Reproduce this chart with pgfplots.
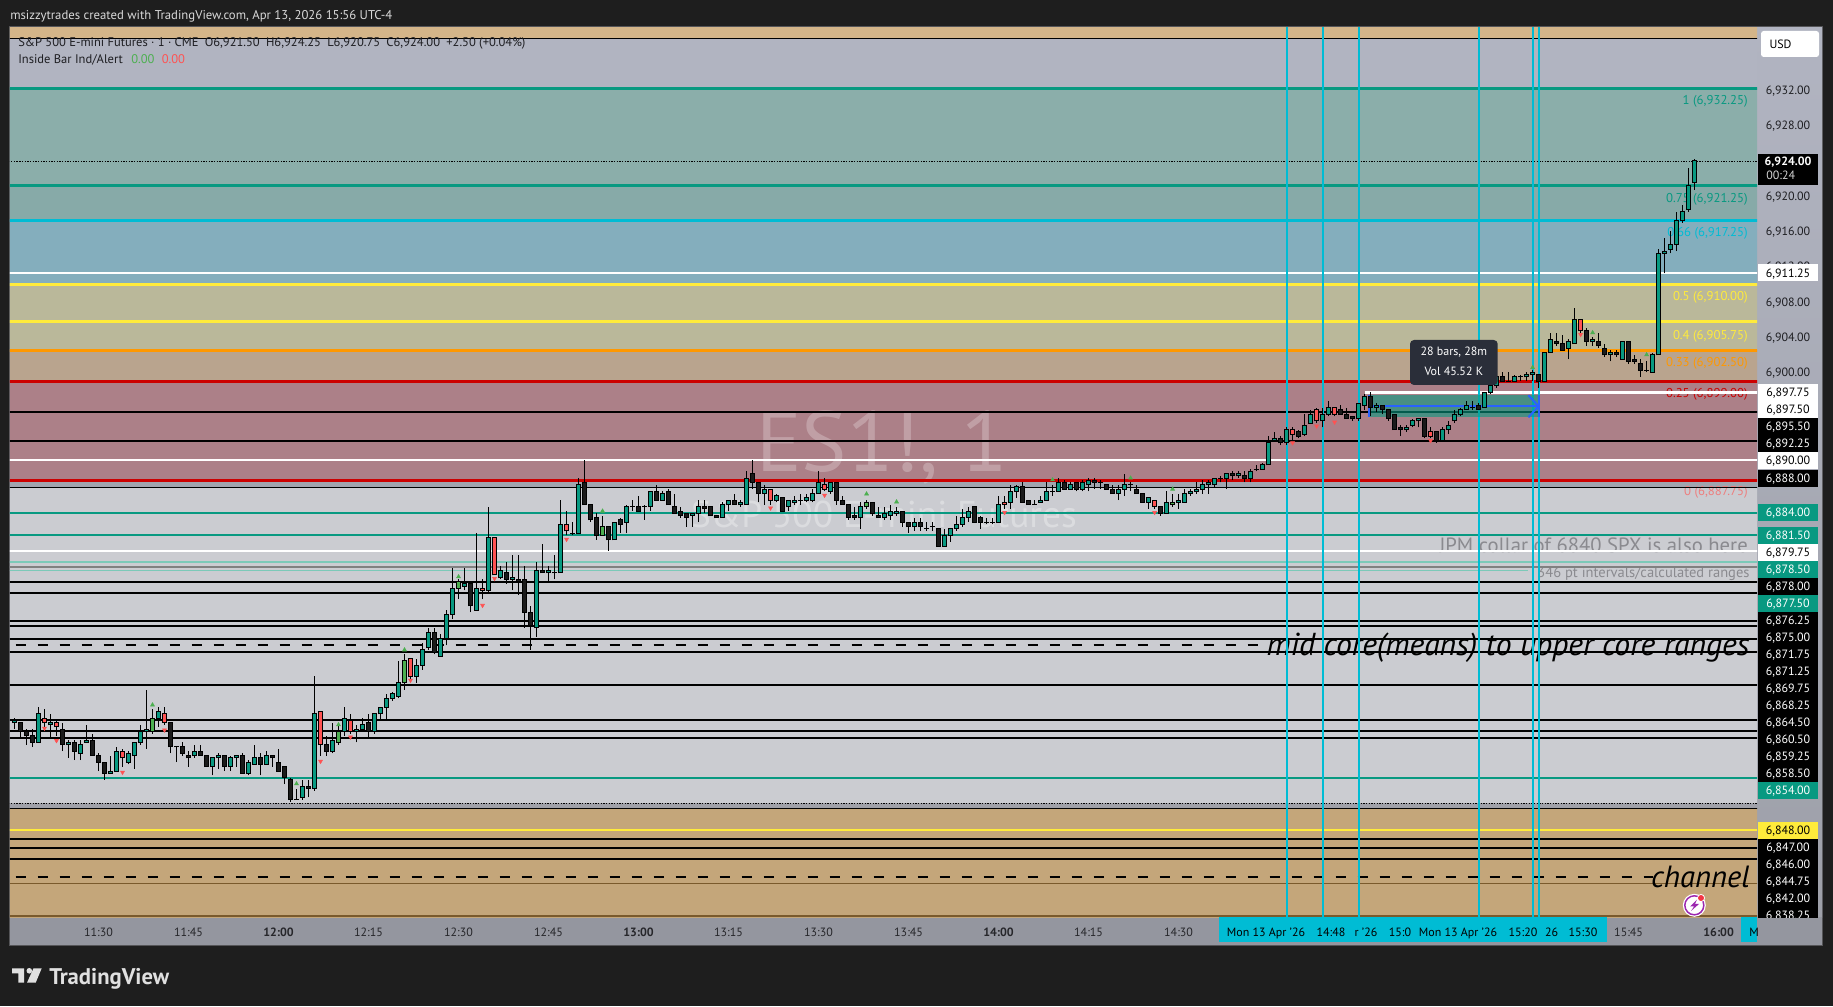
\documentclass[border=0pt]{standalone}
\usepackage{fontspec}
\setmainfont{PT Sans}
\usepackage{pgfplots}
\usepackage{pgfplotstable}
\pgfplotsset{compat=1.18}
\definecolor{tvup}{HTML}{089981}
\definecolor{tvdn}{HTML}{1A1A1A}
\definecolor{tvred}{HTML}{FF5252}
\definecolor{tvgrn}{HTML}{4CAF50}
\definecolor{tvcy}{HTML}{00BCD4}
\definecolor{tvyl}{HTML}{FFEB3B}
\definecolor{tvor}{HTML}{FF9800}
\definecolor{tvrd}{HTML}{CC0000}
\definecolor{bgdark}{HTML}{1E1E1E}
\definecolor{tealL}{HTML}{7CC9B8}
\definecolor{brwn}{HTML}{7A5A2C}
\definecolor{tax}{HTML}{94969F}
\pgfplotstableread{
t o h l c
676 6860.25 6860.75 6859.5 6860.5
680 6858 6862 6858 6861.25
682 6860 6861.25 6858.5 6860.25
685 6857.75 6858.25 6856.25 6858
687 6856.75 6858.25 6856 6857.75
688 6858 6860 6858 6858.25
692 6854.5 6856.5 6854.5 6854.75
693 6854.75 6857.5 6854.75 6857
695 6855.75 6857 6855.5 6856.75
696 6856.5 6858 6855 6858
697 6858 6860 6857.75 6859.25
698 6859.25 6864 6857.25 6859.5
700 6860.75 6862 6859.75 6861.5
706 6856.5 6857.75 6856.25 6857
709 6855.25 6856.25 6854.25 6856.25
710 6856.25 6856.75 6855 6856.5
712 6855.25 6856.5 6854.75 6856.25
713 6856.25 6856.5 6855.25 6856.5
715 6854.5 6856 6854.25 6855.75
716 6855.5 6857.75 6855.5 6856.25
718 6855.5 6857 6855.5 6856.5
724 6851.75 6853.75 6851.5 6853
726 6852.75 6865.5 6852.5 6861.25
729 6857 6860.25 6856.75 6858.25
731 6859.25 6862 6858.75 6860.75
733 6859.25 6860 6858 6859.5
734 6859.5 6860.75 6859.25 6860
736 6859.25 6861.25 6859 6861.25
737 6861.25 6862 6860.5 6862
738 6862 6863.5 6860.5 6863
739 6863 6863.75 6862.75 6863.5
740 6863.25 6867.25 6863 6864.75
743 6865.5 6867.5 6864.75 6866.75
744 6866.75 6869.25 6866.25 6868.5
745 6868.75 6871 6868.5 6870.5
747 6867.75 6870.25 6867.75 6869.75
748 6869.75 6873 6869 6872.5
749 6872.5 6877.75 6872 6875.5
751 6875.75 6877.75 6875.25 6876
753 6873 6881.75 6873 6875.5
755 6875.25 6884.75 6875 6881.25
757 6876.75 6878 6876.5 6877.5
759 6876.5 6879.25 6875.25 6876.75
763 6871 6878.5 6870 6877.5
765 6877.25 6878 6876.25 6877.5
767 6877.25 6885.5 6877.25 6882.75
770 6881.75 6888 6881.75 6887.25
776 6881 6883 6881 6883
778 6883 6885 6881.75 6884.75
782 6884.75 6886.5 6884.25 6886.5
784 6885.5 6886.5 6885.5 6886.25
789 6883.75 6884 6882.5 6884
790 6884 6885.5 6883 6884.75
794 6883.5 6885.25 6883.5 6885
795 6885 6885.5 6884.25 6885.5
797 6885 6885.5 6884.75 6885.25
798 6885 6888.75 6885 6888
801 6886.25 6887.25 6885 6886.75
803 6885.5 6886.25 6885.25 6886
805 6884.75 6885.5 6884.25 6885.5
806 6885.25 6886 6885 6885.5
808 6885.5 6886.25 6885.25 6885.75
809 6885.5 6886.75 6885.25 6886.25
810 6886.25 6888.75 6886.25 6887.5
812 6886.5 6887.5 6886.25 6887.5
817 6883.5 6885.25 6882.25 6884.75
821 6883.5 6884.75 6883.25 6884
822 6883.75 6885 6883.25 6884.25
823 6884 6884.75 6883.75 6884.25
826 6882.5 6883.5 6882 6883
831 6880.25 6882.25 6880.25 6881.5
832 6881.5 6882.25 6880.75 6882.25
833 6882.25 6883.75 6882 6882.75
834 6882.75 6884.5 6882.5 6883.5
835 6883.5 6884.75 6883 6884.25
840 6883 6886 6883 6885
842 6885.25 6887.25 6884.5 6886.5
843 6886.5 6887.25 6885.75 6887
847 6885.25 6886 6885.25 6885.5
848 6885.5 6887.5 6885.5 6886.5
850 6886.5 6888 6886.5 6887.5
852 6886.75 6887.5 6886.75 6887.25
854 6886.75 6887.75 6886.5 6887.5
855 6887.25 6888 6886.5 6887.75
860 6886.25 6887.25 6885.5 6886.75
861 6886.75 6888.5 6886 6887.25
865 6885.25 6885.75 6884.5 6885.75
868 6884 6886.5 6884 6885.25
870 6885.25 6886.25 6884.5 6885.5
871 6885.25 6886.75 6885.25 6886.25
872 6886.25 6886.75 6886 6886.5
873 6886.5 6887.5 6886.25 6886.75
874 6886.75 6887.75 6886.25 6887.25
875 6887.25 6887.75 6886.25 6887.5
876 6887.25 6888 6887 6888
878 6888 6888.5 6886.75 6888.5
880 6888.25 6888.75 6888 6888.5
882 6888 6889 6887.5 6888.75
884 6889 6889.75 6889 6889.5
885 6889.5 6892.75 6889.5 6892
886 6892.25 6893.25 6892.25 6892.5
888 6892 6893.75 6891.75 6893.5
891 6893 6895.25 6892.75 6894
892 6894.25 6895.75 6894.25 6895.25
894 6894.5 6896 6893.75 6895.25
895 6895.25 6896.75 6895 6896
900 6894.75 6896.5 6894.5 6896.5
901 6896.25 6897.5 6895.75 6897.25
903 6896 6896.5 6895.5 6896.25
908 6893.5 6894 6893.25 6893.75
909 6894 6894.75 6893.75 6894.5
910 6894.5 6894.75 6893.75 6894.75
914 6892.25 6893.75 6892.25 6893.5
915 6893.5 6894.5 6893 6894
916 6894.5 6895.75 6894.25 6895.25
917 6895.25 6896 6895 6895.75
918 6895.75 6896.75 6895.75 6896.25
921 6896 6897.75 6896 6897.75
922 6897.75 6898.75 6897.5 6898.5
923 6898.5 6899.75 6898.25 6899.5
926 6899 6899.75 6899 6899.5
928 6899.5 6900 6899 6899.75
929 6899.75 6900.25 6899 6900
931 6899 6902.25 6899 6902.25
932 6902.25 6904.5 6902.25 6903.75
935 6902.75 6903.75 6901.5 6903.5
936 6903.25 6907.25 6903.25 6906
939 6903.5 6904 6903 6903.75
942 6902 6902.5 6901.25 6902.25
944 6901.5 6903.5 6901.5 6903.5
949 6900 6902.25 6900 6902
950 6902 6914 6902 6913.5
951 6913.5 6915.25 6911.25 6913.75
952 6914 6916 6913.5 6914.5
953 6914.5 6918.25 6913.75 6917.25
954 6917.25 6919 6917 6918.25
955 6918.5 6923.25 6918.25 6921.25
956 6921.5 6924.25 6920.75 6924
}\upT
\pgfplotstableread{
t o h l c
677 6860.25 6860.25 6858.5 6859.25
678 6859.25 6859.5 6857.75 6858.75
679 6858.75 6859.5 6857.5 6858
684 6859.5 6860.25 6857 6857.75
686 6858 6858.25 6856 6857
689 6858.25 6859 6856.5 6856.5
690 6856.5 6856.75 6854.75 6855.75
691 6855.75 6855.75 6853.75 6854.5
702 6860.25 6860.25 6856.75 6857.5
703 6857.5 6857.5 6855.75 6857.5
704 6857.5 6858 6856.5 6856.75
705 6856.5 6857 6855.25 6856.25
707 6857 6857.75 6856.5 6856.5
708 6856.5 6856.5 6855.25 6855.25
711 6856.5 6856.5 6854.75 6855.25
714 6856.5 6856.75 6854.5 6854.5
717 6856.25 6856.75 6854.25 6855.5
719 6856.5 6856.5 6855.25 6856.25
720 6855.75 6857.25 6854.75 6854.75
721 6855.25 6855.25 6853.25 6854
722 6853.75 6854 6851.25 6851.5
723 6851.5 6852.75 6851.5 6851.5
725 6853 6853.75 6851.75 6852.75
728 6857.75 6858.75 6856.5 6857
735 6860.25 6861.25 6858.5 6859.25
746 6870.5 6871 6868 6868.25
752 6876 6876 6872.75 6873.5
758 6877.25 6878.5 6876 6876.5
760 6876.5 6879.25 6874.75 6876.25
761 6876.5 6878 6871 6872.75
762 6872.75 6873.5 6868.5 6871.25
764 6877.5 6880.5 6877.25 6877.25
766 6877.25 6879.25 6876.5 6877.25
769 6881.75 6883 6881.5 6881.75
771 6887.5 6890 6885 6885
772 6885 6885 6883 6883.25
773 6883.5 6884 6881 6881.5
775 6882.5 6882.5 6879.75 6881
777 6883.25 6883.5 6881.75 6882.75
779 6884.75 6885.5 6884.25 6884.75
780 6884.75 6886 6884.25 6884.25
781 6884.75 6885 6883.25 6884.75
783 6886.5 6887.25 6885.5 6885.5
785 6886.5 6886.75 6885 6885
786 6884.75 6886.25 6884 6884
787 6884.25 6884.75 6883.5 6883.75
788 6884 6884 6882.5 6883.5
791 6884.75 6885.5 6884 6884.5
792 6884.75 6884.75 6883.75 6883.75
793 6883.75 6883.75 6883.5 6883.5
796 6885.5 6886.25 6885 6885
799 6888.5 6890 6886.75 6887.5
800 6887.5 6887.5 6885.25 6886.25
804 6885.75 6885.75 6884.25 6884.25
807 6885.5 6886.25 6885 6885.5
813 6887.5 6887.5 6885 6885.5
814 6885.5 6886 6885 6885
815 6885 6885 6883.25 6883.5
816 6883.75 6884.75 6883.25 6883.5
819 6885.25 6885.25 6883.75 6884
820 6883.75 6884.75 6883.5 6883.5
824 6884.25 6884.25 6882.5 6883
825 6883 6883 6881.75 6882.5
827 6883 6883.5 6882 6882.5
828 6882.25 6883 6882 6882.25
829 6882.5 6883 6882 6882.5
830 6882.25 6882.25 6880.25 6880.25
836 6884.75 6884.75 6883 6883
837 6883.5 6883.75 6882.25 6883
838 6883 6883.5 6882.75 6883
839 6883 6883.5 6882.75 6883
844 6887 6887.5 6885.25 6885.25
845 6885.5 6885.5 6885 6885
846 6885 6885.5 6885 6885
849 6886.5 6887.25 6886 6886.5
851 6887.5 6887.75 6886.75 6886.75
853 6887.5 6887.5 6886.5 6886.75
856 6887.75 6888 6886.75 6887.5
857 6887.5 6887.75 6886.75 6887.5
858 6887.25 6887.25 6886.75 6886.75
859 6886.75 6887.25 6886.25 6886.25
862 6887.25 6887.5 6886.5 6887.25
863 6886.75 6887.25 6886.25 6886.25
864 6886.25 6886.25 6885.25 6885.25
867 6884.75 6884.75 6883.75 6884
877 6888 6888.25 6887.5 6888
879 6888.5 6888.75 6887.75 6888.25
881 6888.25 6888.75 6887.5 6888
883 6889 6889.5 6888.75 6889
887 6892.5 6892.75 6891.75 6892
890 6893.25 6893.5 6892.5 6892.75
897 6895.75 6896.25 6895.25 6895.25
898 6895.25 6896 6894.75 6894.75
899 6895 6895 6894.5 6894.75
902 6897.25 6897.75 6895 6896
904 6896.25 6896.25 6895.25 6895.75
905 6895.75 6895.75 6894.5 6894.75
906 6895.25 6895.25 6893.5 6893.5
907 6893.75 6894 6892.75 6893.5
911 6894.75 6894.75 6892.5 6892.75
913 6893.25 6893.25 6892 6892.25
919 6896 6896.75 6895.75 6896
920 6896.25 6896.5 6895.75 6895.75
924 6899.5 6900 6899 6899
925 6899 6900 6899 6899
927 6899.5 6899.75 6899 6899.5
930 6899.75 6899.75 6898.25 6899
933 6903.5 6904.5 6903 6903.25
934 6903.25 6904.25 6902.5 6902.5
938 6904.75 6905 6903 6903.5
940 6903.5 6904.5 6902.75 6903
941 6902.75 6903.25 6901.75 6902
943 6902.25 6902.5 6901.75 6902
945 6903.5 6903.5 6901 6901.25
946 6901.5 6902 6901 6901.25
947 6901 6901.5 6899.5 6900.25
948 6900.25 6901.25 6900 6900.25
}\dnT
\pgfplotstableread{
t o h l c
681 6860.75 6861.75 6859.75 6860.25
683 6860.25 6860.5 6858.75 6859.75
694 6857 6857.25 6855.25 6856.25
701 6861.25 6862 6860 6860.25
727 6861.5 6861.5 6856.5 6857.75
732 6860.5 6861.25 6859 6859.25
742 6867.5 6867.5 6865 6865.5
754 6875.5 6876.5 6874.25 6875.25
756 6881.25 6881.25 6877 6877
768 6882.75 6884.25 6881.5 6882
802 6886.75 6886.75 6885 6885.5
811 6887.25 6888 6886.5 6886.75
841 6885.25 6886 6884.5 6885
866 6885.5 6885.5 6884.5 6884.75
889 6893.5 6893.75 6892.25 6893
893 6895.75 6896 6894.25 6894.5
896 6896 6896 6895 6895.25
912 6893.25 6893.75 6892.5 6892.75
937 6906 6906 6904.5 6904.75
}\redT
\pgfplotstableread{
t o h l c
699 6859.25 6861.75 6859 6860.75
730 6858 6860.25 6857.75 6859.25
741 6864.75 6868 6864 6867.25
750 6875.5 6876.5 6874.25 6876.25
774 6881.5 6883.75 6881.5 6882.5
818 6884.75 6885.5 6884.5 6885.25
869 6885 6886.25 6884.75 6885.25
}\grnT
% one path per layer (wick, outline, fill), each candle separated by a jump
\newcommand{\candles}[2]{%
\pgfplotstablegetrowsof{#1}\pgfmathtruncatemacro\lastrow{\pgfplotsretval-1}%
\gdef\wickP{}\gdef\outP{}\gdef\innP{}%
\pgfplotsforeachungrouped \rw in {0,...,\lastrow}{%
  \pgfplotstablegetelem{\rw}{t}\of{#1}\let\vT\pgfplotsretval
  \pgfplotstablegetelem{\rw}{o}\of{#1}\let\vO\pgfplotsretval
  \pgfplotstablegetelem{\rw}{h}\of{#1}\let\vH\pgfplotsretval
  \pgfplotstablegetelem{\rw}{l}\of{#1}\let\vL\pgfplotsretval
  \pgfplotstablegetelem{\rw}{c}\of{#1}\let\vC\pgfplotsretval
  \pgfmathsetmacro\vTop{max(\vO,\vC)}%
  \pgfmathsetmacro\vBot{min(\vO,\vC)}%
  \pgfmathsetmacro\oTop{\vTop+0.057}%
  \pgfmathsetmacro\oBot{\vBot-0.057}%
  \pgfmathsetmacro\nTop{\vTop-0.057}%
  \pgfmathsetmacro\nBot{\vBot+0.057}%
  \xdef\wickP{\wickP(\vT,\vL)(\vT,\vH)(\vT,nan)}%
  \xdef\outP{\outP(\vT,\oBot)(\vT,\oTop)(\vT,nan)}%
  \pgfmathtruncatemacro\hasbody{(\vTop-\vBot)>0.12?1:0}%
  \ifnum\hasbody=1 \xdef\innP{\innP(\vT,\nBot)(\vT,\nTop)(\vT,nan)}\fi
}%
\edef\tmpA{\noexpand\addplot[draw=black,line width=0.75pt,unbounded coords=jump,forget plot] coordinates {\wickP};}\tmpA
\edef\tmpB{\noexpand\addplot[draw=black,line width=3.75pt,unbounded coords=jump,forget plot] coordinates {\outP};}\tmpB
\edef\tmpC{\noexpand\addplot[draw=#2,line width=2.25pt,unbounded coords=jump,forget plot] coordinates {\innP};}\tmpC
}
\newcommand{\band}[3]{\addplot[fill=#1,draw=none,forget plot] coordinates {(675,#2)(967,#2)(967,#3)(675,#3)} -- cycle;}
\newcommand{\hl}[3]{\addplot[draw=#1,line width=#2,forget plot] coordinates {(675,#3)(967,#3)};}
\newcommand{\vl}[1]{\addplot[draw=tvcy,line width=1.5pt,forget plot] coordinates {(#1,6838)(#1,6940)};}
\newcommand{\plab}[4]{\node[fill=#3,text=#4,minimum width=45pt,minimum height=12.75pt,inner sep=0pt,text height=6.2pt,text depth=0pt,font=\fontsize{9}{10}\selectfont] at (1788,#1) {#2};}
\newcommand{\tl}[2]{\node[text=black,inner sep=0pt,text height=6.2pt,text depth=0pt,font=\fontsize{9}{10}\selectfont] at (#1,932.7) {#2};}
\newcommand{\fib}[3]{\node[anchor=east,text=#3,inner sep=0pt,text height=6.4pt,text depth=0pt,font=\fontsize{9.6}{10}\selectfont] at (axis cs:964.9,#1) {#2};}
\begin{document}
\begin{tikzpicture}
\begin{scope}[x=0.75pt,y=-0.75pt,shift={(0pt,754.5pt)}]
\path[use as bounding box,fill=bgdark] (0,0) rectangle (1833,1006);
\fill[color={rgb,255:red,85;green,85;blue,88}] (9,26.5) rectangle (1823,946);
\shade[top color={rgb,255:red,177;green,180;blue,193},bottom color={rgb,255:red,158;green,160;blue,169}] (1757,28) rectangle (1822,918);
\fill[tax] (10,917) rectangle (1822,945);
\end{scope}
\begin{axis}[at={(7.5pt,66.75pt)},anchor=south west,scale only axis,width=1310.25pt,height=666.75pt,
  xmin=675.25,xmax=966.4,ymin=6838.18,ymax=6939.09,
  axis line style={draw=none},major tick length=0pt,
  yticklabel pos=right,
  xtick={690,705,720,735,750,765,780,795,810,825,840,855,870,945,960},
  xticklabels={11:30,11:45,\textbf{12:00},12:15,12:30,12:45,\textbf{13:00},13:15,13:30,13:45,\textbf{14:00},14:15,14:30,15:45,\textbf{16:00}},
  ytick={6900,6904,6908,6912,6916,6920,6928,6932},
  scaled y ticks=false,
  yticklabel style={/pgf/number format/fixed,/pgf/number format/fixed zerofill,/pgf/number format/precision=2,/pgf/number format/1000 sep={,},/pgf/number format/assume math mode=true},
  x tick label style={anchor=center,yshift=-11.5pt,text height=6.2pt,text depth=0pt,font=\fontsize{9}{10}\selectfont,text={rgb,255:red,38;green,38;blue,42}},
  y tick label style={anchor=center,xshift=23.25pt,text height=6.2pt,text depth=0pt,font=\fontsize{9}{10}\selectfont,text={rgb,255:red,30;green,30;blue,34}},
]
% bands
\band{{rgb,255:red,212;green,181;blue,137}}{6939.2}{6937.93}
\band{{rgb,255:red,177;green,180;blue,193}}{6937.93}{6932.25}
\band{{rgb,255:red,139;green,174;blue,170}}{6932.25}{6921.25}
\band{{rgb,255:red,135;green,170;blue,168}}{6921.25}{6917.25}
\band{{rgb,255:red,132;green,174;blue,189}}{6917.25}{6910}
\band{{rgb,255:red,186;green,184;blue,154}}{6910}{6902.5}
\band{{rgb,255:red,185;green,164;blue,142}}{6902.5}{6899}
\band{{rgb,255:red,172;green,128;blue,136}}{6899}{6887.75}
\band{{rgb,255:red,161;green,164;blue,174}}{6887.75}{6886.9}
\band{{rgb,255:red,203;green,204;blue,209}}{6886.9}{6851.1}
\band{{rgb,255:red,160;green,161;blue,169}}{6851.1}{6850.5}
\band{{rgb,255:red,196;green,166;blue,122}}{6850.5}{6838}
% watermark
\node[text=white,opacity=0.25,font=\fontsize{64}{70}\selectfont] at (axis cs:820.6,6891.5) {ES1!, 1};
\node[text=white,opacity=0.32,font=\fontsize{28}{30}\selectfont] at (axis cs:820.9,6883.9) {S\&P 500 E-mini Futures};
% texts behind lines
\node[anchor=east,inner sep=0pt,text height=10.8pt,text depth=0pt,text={rgb,255:red,138;green,138;blue,143},font=\fontsize{15.5}{16}\selectfont] at (axis cs:964.9,6880.4) {JPM collar of 6840 SPX is also here};
\node[anchor=east,inner sep=0pt,text height=7.6pt,text depth=0pt,text={rgb,255:red,138;green,138;blue,143},font=\fontsize{10.9}{12}\selectfont] at (axis cs:965.2,6877.3) {346 pt intervals/calculated ranges};
\fib{6930.92}{1 (6,932.25)}{tvup}
\fib{6919.8}{0.75 (6,921.25)}{tvup}
\fib{6915.9}{0.66 (6,917.25)}{tvcy}
\fib{6908.67}{0.5 (6,910.00)}{tvyl}
\fib{6904.25}{0.4 (6,905.75)}{tvyl}
\fib{6901.1}{0.33 (6,902.50)}{tvor}
\fib{6897.67}{0.25 (6,899.00)}{tvrd}
\fib{6886.46}{0 (6,887.75)}{{rgb,255:red,238;green,125;blue,125}}
% horizontal lines
\hl{black}{0.75pt}{6937.93}
\hl{tvup}{1.9pt}{6932.25}
\hl{tvup}{2.2pt}{6921.25}
\hl{tvcy}{2.2pt}{6917.25}
\hl{tvyl}{1.9pt}{6910}
\hl{tvyl}{1.9pt}{6905.75}
\hl{tvor}{1.9pt}{6902.5}
\hl{tvrd}{2.2pt}{6899}
\hl{tvrd}{2.2pt}{6887.75}
\hl{white}{1.5pt}{6911.25}
\addplot[draw=white,line width=2.2pt,forget plot] coordinates {(901,6897.75)(967,6897.75)};
\hl{black}{1.5pt}{6895.5}
\hl{black}{1.5pt}{6892.25}
\hl{white}{1.5pt}{6890}
\hl{black}{0.75pt}{6886.9}
\hl{tvup}{1.5pt}{6884}
\hl{tvup}{1.7pt}{6881.5}
\hl{white}{1.5pt}{6879.75}
\hl{tealL}{1.2pt}{6878.5}
\hl{gray}{1.2pt}{6877.9}
\addplot[draw=tealL,line width=1.2pt,forget plot] coordinates {(675,6877.5)(928.25,6877.5)};
\hl{black}{1.5pt}{6876.25}
\hl{black}{1.5pt}{6875}
\hl{black}{1.5pt}{6871.75}
\hl{black}{1.5pt}{6871.25}
\hl{black}{1.5pt}{6869.75}
\hl{black}{1.5pt}{6868.25}
\hl{black}{1.5pt}{6864.5}
\hl{black}{1.5pt}{6860.5}
\hl{black}{1.5pt}{6859.25}
\hl{black}{1.5pt}{6858.5}
\hl{tvup}{1.5pt}{6854}
\addplot[draw=black,line width=0.75pt,dash pattern=on 1pt off 1pt,forget plot] coordinates {(675,6851.1)(967,6851.1)};
\hl{black}{0.75pt}{6850.5}
\hl{tvyl}{1.5pt}{6848}
\hl{black}{1.5pt}{6847}
\hl{black}{1.5pt}{6846}
\hl{black}{1.5pt}{6844.75}
\hl{brwn}{1.2pt}{6842}
\hl{brwn}{1.5pt}{6838.3}
\addplot[draw=black,line width=0.6pt,dash pattern=on 1pt off 1pt,forget plot] coordinates {(675,6924)(967,6924)};
\addplot[draw=black,line width=1.5pt,dash pattern=on 7.5pt off 9pt,forget plot] coordinates {(676.2,6869.1)(883.9,6869.1)};
\addplot[draw=black,line width=1.5pt,dash pattern=on 7.5pt off 9pt,forget plot] coordinates {(676.2,6842.75)(949,6842.75)};
\node[anchor=east,inner sep=0pt,text height=17pt,text depth=0pt,text=black,font=\fontsize{23.8}{26}\selectfont\itshape] at (axis cs:965.2,6869.1) {mid core(means) to upper core ranges};
\node[anchor=east,inner sep=0pt,text height=16.5pt,text depth=0pt,text=black,font=\fontsize{23}{26}\selectfont\itshape] at (axis cs:965.2,6842.75) {channel};
% vertical lines
\vl{888}\vl{894}\vl{900}\vl{920}\vl{929}\vl{930}
% measure
\addplot[fill=tvup,fill opacity=0.6,draw=none,forget plot] coordinates {(901.8,6897.4)(930,6897.4)(930,6894.9)(901.8,6894.9)} -- cycle;
\addplot[draw={rgb,255:red,41;green,98;blue,255},line width=1.5pt,forget plot] coordinates {(901.8,6896.15)(930,6896.15)};
\addplot[draw={rgb,255:red,41;green,98;blue,255},line width=1.5pt,forget plot] coordinates {(901.8,6897.4)(901.8,6894.9)};
\addplot[draw={rgb,255:red,41;green,98;blue,255},line width=1.5pt,forget plot] coordinates {(930,6897.4)(930,6894.9)};
\addplot[draw={rgb,255:red,41;green,98;blue,255},line width=1.5pt,forget plot] coordinates {(928.3,6897.4)(930,6896.15)(928.3,6894.9)};
% candles
\candles{\upT}{tvup}
\candles{\dnT}{tvdn}
\candles{\redT}{tvred}
\candles{\grnT}{tvgrn}
% inside-bar markers
\addplot[only marks,mark=triangle*,mark size=1.7pt,color=tvgrn,forget plot] coordinates {
(699,6862.25)(723,6853.3)(730,6860)(741,6868.5)(750,6876.8)(774,6884.25)(818,6886.2)(823,6885.3)(849,6887.8)(862,6888)(869,6886.75)(929,6900.55)(939,6904.5)(948,6902)};
\addplot[only marks,mark=triangle*,mark size=1.7pt,color=tvred,every mark/.append style={rotate=180},forget plot] coordinates {
(681,6859.6)(683,6858.2)(694,6854.6)(701,6859.4)(727,6855.85)(732,6858.6)(742,6865.05)(754,6873.55)(756,6876.6)(768,6881.05)(802,6884.6)(811,6886.05)(841,6884.1)(866,6884.1)(889,6892)(893,6893.9)(896,6894.35)(912,6892.25)(937,6904.3)};
\end{axis}
\begin{scope}[x=0.75pt,y=-0.75pt,shift={(0pt,754.5pt)}]
% header
\node[anchor=west,inner sep=0pt,text height=6.6pt,text depth=0pt,text={rgb,255:red,217;green,217;blue,217},font=\fontsize{9.55}{11}\selectfont] at (10,14.7) {msizzytrades created with TradingView.com, Apr 13, 2026 15:56 UTC-4};
\node[anchor=west,inner sep=0pt,text height=6.4pt,text depth=0pt,text={rgb,255:red,30;green,30;blue,34},font=\fontsize{9.4}{11}\selectfont] at (18,42.3) {S\&P 500 E-mini Futures · 1 · CME\enspace O6,921.50\enspace H6,924.25\enspace L6,920.75\enspace C6,924.00\enspace +2.50 (+0.04\%)};
\node[anchor=west,inner sep=0pt,text height=6.4pt,text depth=0pt,text={rgb,255:red,30;green,30;blue,34},font=\fontsize{9.4}{11}\selectfont] at (18,59) {Inside Bar Ind/Alert};
\node[anchor=west,inner sep=0pt,text height=6.4pt,text depth=0pt,text=tvgrn,font=\fontsize{9.4}{11}\selectfont] at (131,59) {0.00};
\node[anchor=west,inner sep=0pt,text height=6.4pt,text depth=0pt,text=tvred,font=\fontsize{9.4}{11}\selectfont] at (161.5,59) {0.00};
% USD
\fill[white,rounded corners=2pt] (1761,31) rectangle (1819,57);
\node[text=black,inner sep=0pt,text height=6.2pt,text depth=0pt,font=\fontsize{9}{10}\selectfont] at (1780.5,44) {USD};
% price labels
\fill[black] (1758,154) rectangle (1818,184.7);
\node[text=white,font=\fontsize{9}{10}\selectfont\bfseries,inner sep=0pt,text height=6.2pt,text depth=0pt] at (1788,161.5) {6,924.00};
\node[text={rgb,255:red,210;green,210;blue,210},anchor=west,font=\fontsize{9}{10}\selectfont,inner sep=0pt,text height=6.2pt,text depth=0pt] at (1766,175.5) {00:24};
\plab{273}{6,911.25}{white}{black}
\plab{392.3}{6,897.75}{white}{black}
\plab{409.3}{6,897.50}{white}{black}
\plab{426.3}{6,895.50}{black}{white}
\plab{443.5}{6,892.25}{black}{white}
\plab{460.7}{6,890.00}{white}{black}
\plab{478.3}{6,888.00}{black}{white}
\plab{512.7}{6,884.00}{tvup}{white}
\plab{535.7}{6,881.50}{tvup}{white}
\plab{552.7}{6,879.75}{white}{black}
\plab{569.7}{6,878.50}{tvup}{white}
\plab{586.7}{6,878.00}{black}{white}
\plab{603.7}{6,877.50}{tvup}{white}
\plab{620.7}{6,876.25}{black}{white}
\plab{637.5}{6,875.00}{black}{white}
\plab{654.5}{6,871.75}{black}{white}
\plab{671.7}{6,871.25}{black}{white}
\plab{688.7}{6,869.75}{black}{white}
\plab{705.4}{6,868.25}{black}{white}
\plab{722.4}{6,864.50}{black}{white}
\plab{739.4}{6,860.50}{black}{white}
\plab{756.4}{6,859.25}{black}{white}
\plab{773.4}{6,858.50}{black}{white}
\plab{790.4}{6,854.00}{tvup}{white}
\plab{830.7}{6,848.00}{tvyl}{black}
\plab{847.7}{6,847.00}{black}{white}
\plab{864.7}{6,846.00}{black}{white}
\plab{881.7}{6,844.75}{black}{white}
\plab{898.7}{6,842.00}{black}{white}
\plab{915.7}{6,838.25}{black}{white}
\fill[tax] (1757,917.7) rectangle (1822,945);
% time axis cyan boxes
\fill[tvcy] (1219,917) rectangle (1606.5,941.7);
\fill[tvcy] (1741,917) rectangle (1757,941.7);
\tl{1266}{Mon 13 Apr '26}
\tl{1331}{14:48}
\tl{1366}{r '26}
\tl{1400}{15:0}
\tl{1458}{Mon 13 Apr '26}
\tl{1523}{15:20}
\tl{1551.6}{26}
\tl{1583}{15:30}
\begin{scope}
\clip (1741,917) rectangle (1757,941.7);
\node[text=black,anchor=west,inner sep=0pt,text height=6.2pt,text depth=0pt,font=\fontsize{9}{10}\selectfont] at (1749,932.7) {Mon};
\end{scope}
% tooltip
\fill[color={rgb,255:red,42;green,46;blue,57},rounded corners=3pt] (1410,340) rectangle (1497.7,385);
\node[text=white,inner sep=0pt,text height=6.2pt,text depth=0pt,font=\fontsize{9}{10}\selectfont] at (1453.8,351.7) {28 bars, 28m};
\node[text=white,inner sep=0pt,text height=6.2pt,text depth=0pt,font=\fontsize{9}{10}\selectfont] at (1453.8,371.7) {Vol 45.52 K};
% publish icon
\fill[white] (1694.3,905.3) circle (11.5);
\draw[color={rgb,255:red,156;green,39;blue,176},line width=1.1pt] (1694.3,905.3) circle (9.5);
\fill[color={rgb,255:red,156;green,39;blue,176}] (1697,899.5) -- (1690,906.5) -- (1694,906.5) -- (1691,911) -- (1699,904) -- (1695,904) -- cycle;
\fill[white] (1701,898) circle (4);
\fill[color={rgb,255:red,242;green,54;blue,69}] (1701,898) circle (3);
% logo
\fill[color={rgb,255:red,224;green,224;blue,224}] (12,968.3) -- (24,968.3) -- (24,982.7) -- (18.3,982.7) -- (18.3,973.3) -- (12,973.3) -- cycle;
\fill[color={rgb,255:red,224;green,224;blue,224}] (29.3,970.8) circle (2.8);
\fill[color={rgb,255:red,224;green,224;blue,224}] (33.5,968.3) -- (41.7,968.3) -- (35.7,982.7) -- (27,982.7) -- cycle;
\node[anchor=west,inner sep=0pt,text height=12pt,text depth=0pt,text={rgb,255:red,224;green,224;blue,224},font=\fontsize{17}{18}\selectfont\bfseries] at (49,976) {TradingView};
\end{scope}
\end{tikzpicture}
\end{document}
